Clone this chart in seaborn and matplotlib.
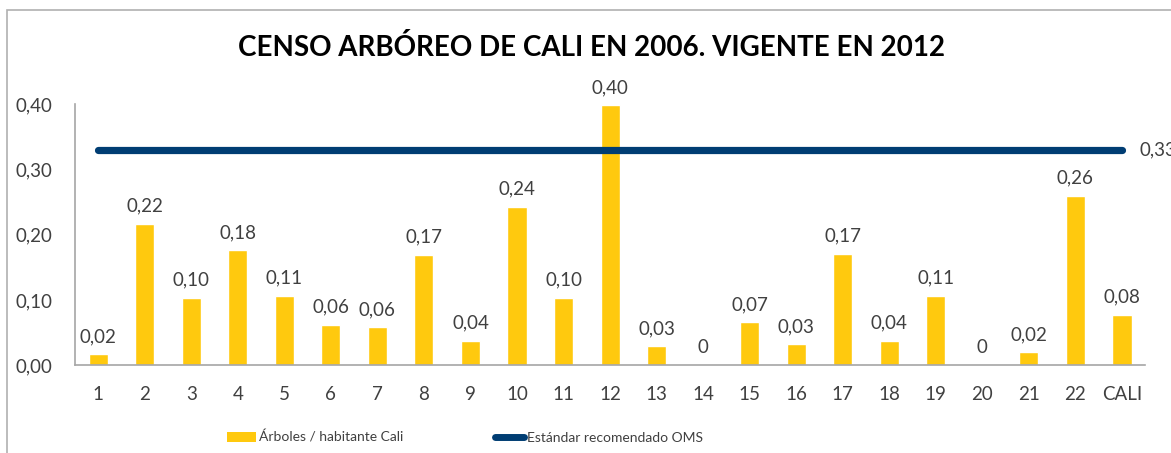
import numpy as np
import pandas as pd
import matplotlib
matplotlib.use("Agg")
import matplotlib.pyplot as plt
import seaborn as sns
from matplotlib.patches import Patch, Rectangle
from matplotlib.lines import Line2D

categories = ["1", "2", "3", "4", "5", "6", "7", "8", "9", "10", "11", "12",
              "13", "14", "15", "16", "17", "18", "19", "20", "21", "22", "CALI"]
arboles = [0.017, 0.217, 0.103, 0.176, 0.106, 0.062, 0.058, 0.169, 0.037, 0.243,
           0.103, 0.398, 0.029, 0.0, 0.066, 0.032, 0.171, 0.037, 0.106, 0.0,
           0.020, 0.260, 0.077]
estandar_oms = [0.33] * len(categories)
y_ticks = [0.0, 0.1, 0.2, 0.3, 0.4]

title = "CENSO ARBÓREO DE CALI EN 2006. VIGENTE EN 2012"
bar_name = "Árboles / habitante Cali"
line_name = "Estándar recomendado OMS"

BAR_C = "#FFC90E"
LINE_C = "#003D73"
TXT_C = "#404040"
FS = 13.5

sns.set_theme(style="white")
plt.rcParams["font.family"] = ["Lato", "DejaVu Sans"]

df = pd.DataFrame({"zona": categories, "valor": arboles})

fig = plt.figure(figsize=(11.71, 4.53), dpi=100)
ax = fig.add_axes([0.064, 0.194, 0.914, 0.576])

sns.barplot(data=df, x="zona", y="valor", color=BAR_C, saturation=1,
            width=0.41, ax=ax)

xs = np.arange(len(categories))
sns.lineplot(x=xs, y=estandar_oms, color=LINE_C, linewidth=5.2, ax=ax,
             solid_capstyle="round")

def fmt(v):
    return "0" if v == 0 else f"{v:.2f}".replace(".", ",")

for i, v in enumerate(arboles):
    ax.text(i, v + 0.014, fmt(v), ha="center", va="bottom", fontsize=FS,
            color=TXT_C)

ax.text(xs[-1] + 0.38, estandar_oms[-1], fmt(estandar_oms[-1]), ha="left",
        va="center", fontsize=FS, color=TXT_C, clip_on=False)

ax.set_xlim(-0.5, len(categories) - 0.5)
ax.set_ylim(0, 0.40)
ax.set_yticks(y_ticks)
ax.set_yticklabels([f"{t:.2f}".replace(".", ",") for t in y_ticks])
ax.set_xlabel("")
ax.set_ylabel("")
ax.tick_params(axis="both", length=0, labelsize=FS, labelcolor=TXT_C)
ax.tick_params(axis="x", pad=15)
ax.tick_params(axis="y", pad=16)
for s in ["top", "right"]:
    ax.spines[s].set_visible(False)
for s in ["left", "bottom"]:
    ax.spines[s].set_color("#A6A6A6")
    ax.spines[s].set_linewidth(1.2)

fig.text(0.505, 0.895, title, ha="center", va="center", fontsize=20,
         fontweight="bold", color="black")

handles = [Patch(facecolor=BAR_C, edgecolor="none"),
           Line2D([0], [0], color=LINE_C, linewidth=5, solid_capstyle="round")]
leg = fig.legend(handles, [bar_name, line_name], loc="center left",
                 bbox_to_anchor=(0.183, 0.035), ncol=2, frameon=False,
                 fontsize=10, handlelength=2.1, handletextpad=0.2,
                 columnspacing=6.6)
for t in leg.get_texts():
    t.set_color(TXT_C)

fig.patches.append(Rectangle((7 / 1171, -0.1), 1.2, 1 - 10 / 453 + 0.1,
                             transform=fig.transFigure, fill=False,
                             edgecolor="#B0B0B0", linewidth=1.2))

fig.savefig("out.png", dpi=100)
